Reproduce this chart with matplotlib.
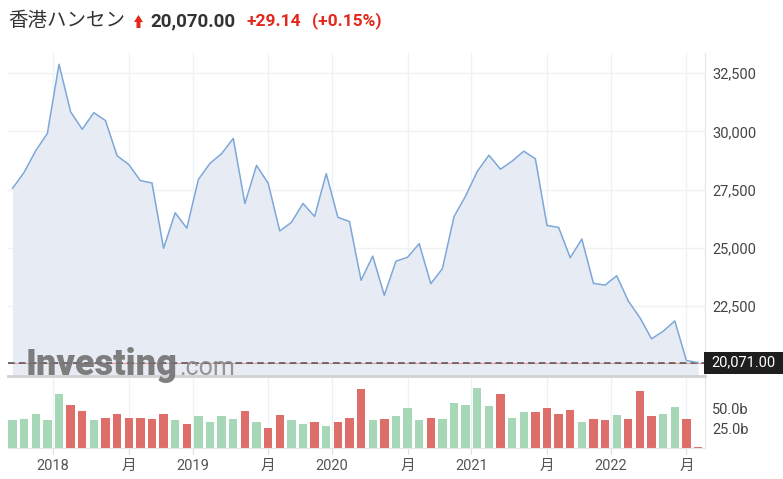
import numpy as np
import pandas as pd
import matplotlib
matplotlib.use('Agg')
import matplotlib.pyplot as plt
from matplotlib.patches import Rectangle, Polygon
from matplotlib.transforms import Affine2D

plt.rcParams['font.family'] = ['Roboto', 'Noto Sans CJK JP', 'DejaVu Sans']

# monthly data, Sep 2017 .. Aug 2022
months = pd.date_range('2017-09-01', '2022-08-01', freq='MS')
close = [27554, 28246, 29177, 29919, 32887, 30845, 30093, 30808, 30469, 28955,
         28583, 27889, 27789, 24980, 26507, 25846, 27942, 28633, 29051, 29699,
         26901, 28543, 27778, 25725, 26092, 26906, 26346, 28190, 26313, 26129,
         23603, 24644, 22961, 24427, 24595, 25177, 23459, 24107, 26341, 27231,
         28284, 28980, 28378, 28725, 29152, 28828, 25961, 25879, 24576, 25377,
         23475, 23398, 23802, 22713, 21997, 21089, 21415, 21860, 20156, 20071]
volume = [35, 36, 43, 35, 67, 54, 46, 35, 38, 43,
          38, 38, 36, 43, 35, 30, 40, 32, 40, 36,
          46, 33, 25, 41, 35, 30, 32, 27, 32, 38,
          74, 35, 36, 40, 50, 35, 38, 36, 56, 54,
          75, 52, 68, 38, 45, 45, 50, 43, 48, 32,
          36, 35, 41, 36, 71, 40, 43, 51, 36, 1.5]
price_ticks = [22500, 25000, 27500, 30000, 32500]
vol_ticks = [25, 50]
vol_labels = ['25.0b', '50.0b']
last_price = 20071.00

title_name = '香港ハンセン'
title_price = '20,070.00'
title_change = '+29.14'
title_pct = '(+0.15%)'

W, H = 783, 479
x = np.arange(len(months))
up = [True] + [close[i] >= close[i - 1] for i in range(1, len(close))]
bar_colors = ['#a6d7b7' if u else '#de6e6a' for u in up]

# tick positions: year label just before January, 月 at July
year_pos = [i - 0.5 for i, m in enumerate(months) if m.month == 1]
year_lab = [str(m.year) for m in months if m.month == 1]
mid_pos = [i for i, m in enumerate(months) if m.month == 7]
tick_pos = sorted(year_pos + mid_pos)
tick_lab = [year_lab[year_pos.index(p)] if p in year_pos else '月' for p in tick_pos]

fig = plt.figure(figsize=(W / 100, H / 100), dpi=100)
ax = fig.add_axes([8 / W, (H - 376) / H, 697 / W, 323 / H])
axv = fig.add_axes([8 / W, (H - 448) / H, 697 / W, 70 / H])

ymin, ymax = 19493, 33372
xlim = (-0.39, 59.6)

# price panel
ax.fill_between(x, close, ymin, color='#e7ecf4', lw=0, zorder=1)
ax.plot(x, close, color='#7da7d8', lw=1.1, zorder=3)
ax.axhline(last_price, color='#ee9a9a', lw=0.8, zorder=2)
ax.axhline(last_price, color='#5a5a5a', lw=1.2, ls=(0, (4, 2.5)), zorder=2)
ax.set_xlim(*xlim)
ax.set_ylim(ymin, ymax)
ax.set_yticks(price_ticks)
ax.set_yticklabels([f'{v:,}' for v in price_ticks])
ax.yaxis.tick_right()
ax.tick_params(axis='y', length=0, pad=5, labelsize=10.5, labelcolor='#444444')
ax.set_xticks(tick_pos)
ax.tick_params(axis='x', length=0, labelbottom=False)
ax.grid(axis='y', color='#f1f1f1', lw=1)
ax.grid(axis='x', color='#eef1f6', lw=1)
ax.set_axisbelow(True)
for s in ['top', 'left']:
    ax.spines[s].set_visible(False)
ax.spines['right'].set_color('#e2e5ec')
ax.spines['bottom'].set_color('#d2d2d2')
ax.spines['bottom'].set_linewidth(2)

# volume panel
axv.bar(x, volume, width=0.72, color=bar_colors, lw=0, zorder=2)
axv.set_xlim(*xlim)
axv.set_ylim(0, 87.5)
axv.set_yticks(vol_ticks)
axv.set_yticklabels(vol_labels)
axv.yaxis.tick_right()
axv.tick_params(axis='y', length=0, pad=5, labelsize=10.5, labelcolor='#444444')
axv.set_xticks(tick_pos)
axv.set_xticklabels(tick_lab)
axv.tick_params(axis='x', length=4, color='#dddddd', pad=4, labelsize=10.5, labelcolor='#555555')
axv.grid(axis='x', color='#eef1f6', lw=1)
axv.set_axisbelow(True)
for s in ['top', 'left']:
    axv.spines[s].set_visible(False)
axv.spines['right'].set_color('#e2e5ec')
axv.spines['bottom'].set_color('#e6e6e6')

# last price tag
fig.canvas.draw()
y_tag = fig.transFigure.inverted().transform(ax.transData.transform((0, last_price)))[1]
fig.patches.append(Rectangle((704 / W, y_tag - 11 / H), 79 / W, 22 / H,
                             transform=fig.transFigure, fc='#1e1e1e', ec='none'))
fig.text(711 / W, y_tag, f'{last_price:,.2f}', color='white', fontsize=10.5,
         va='center', ha='left')

# watermark
fig.text(26 / W, 1 - 375 / H, 'Investing', fontsize=26, weight='black',
         color='#747474', alpha=0.92, va='baseline')
fig.text(179 / W, 1 - 375 / H, '.com', fontsize=18, color='#8a8a8a',
         alpha=0.9, va='baseline')

# header
yh = 1 - 21 / H
fig.text(8 / W, yh, title_name, fontsize=14, color='#333333', va='center',
         family=['Noto Sans CJK JP', 'DejaVu Sans'])
# up-arrow icon, drawn in pixel units from the top-left corner
arrow_px = [(134, 22), (138.5, 15), (143, 22), (140.5, 22), (140.5, 28), (136.5, 28), (136.5, 22)]
to_fig = Affine2D().scale(1 / W, -1 / H).translate(0, 1) + fig.transFigure
fig.patches.append(Polygon(arrow_px, closed=True, transform=to_fig, fc='#e5281d', ec='none'))
fig.text(150 / W, yh, title_price, fontsize=13.5, weight='bold', color='#333333', va='center')
fig.text(247 / W, yh, title_change, fontsize=12.5, weight='bold', color='#e5281d', va='center')
fig.text(312 / W, yh, title_pct, fontsize=12.5, weight='bold', color='#e5281d', va='center')

fig.savefig('out.png', dpi=100)
